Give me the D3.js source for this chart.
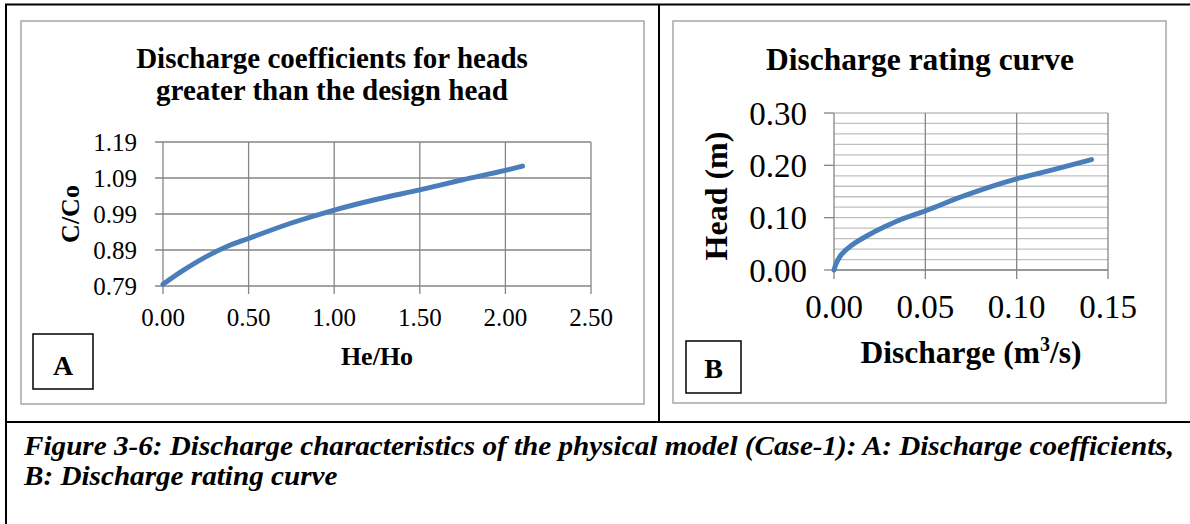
<!DOCTYPE html>
<html><head><meta charset="utf-8">
<script src="https://cdn.jsdelivr.net/npm/d3@7"></script>
<style>
html,body{margin:0;padding:0;background:#fff;}
svg{display:block;font-family:"Liberation Serif","Times New Roman",serif;}
</style></head>
<body>
<svg id="c" width="1190" height="524"></svg>
<script>
// ---- Data ----
const heRatio = [0.00, 0.12, 0.25, 0.37, 0.50, 0.75, 1.00, 1.25, 1.50, 1.75, 2.00, 2.10];
const cRatio  = [0.795, 0.834, 0.871, 0.899, 0.922, 0.965, 1.001, 1.031, 1.057, 1.085, 1.111, 1.123];
const aXTicks = [0.00, 0.50, 1.00, 1.50, 2.00, 2.50];
const aYTicks = [0.79, 0.89, 0.99, 1.09, 1.19];

const discharge = [0.000, 0.0014, 0.0041, 0.0095, 0.0184, 0.0274, 0.0363, 0.050, 0.0722, 0.100, 0.117, 0.141];
const head      = [0.000, 0.014, 0.030, 0.047, 0.066, 0.082, 0.096, 0.113, 0.143, 0.174, 0.189, 0.211];
const bXTicks = [0.00, 0.05, 0.10, 0.15];
const bYTicks = [0.00, 0.10, 0.20, 0.30];
const bYMinor = d3.range(0, 0.3001, 0.02);

const titleA = ["Discharge coefficients for heads", "greater than the design head"];
const titleB = "Discharge rating curve";
const caption = ["Figure 3-6: Discharge characteristics of the physical model (Case-1): A: Discharge coefficients,",
                 "B: Discharge rating curve"];

const svg = d3.select("#c");
const lineColor = "#4a7ebb";
const gridDark = "#868686";
const gridLight = "#bfbfbf";

// ---- outer table borders ----
svg.append("line").attr("x1",5).attr("x2",1190).attr("y1",4.5).attr("y2",4.5).attr("stroke","#000").attr("stroke-width",2);
svg.append("line").attr("x1",6).attr("x2",6).attr("y1",4).attr("y2",524).attr("stroke","#000").attr("stroke-width",2);
svg.append("line").attr("x1",659).attr("x2",659).attr("y1",4).attr("y2",422).attr("stroke","#000").attr("stroke-width",2);
svg.append("line").attr("x1",5).attr("x2",1190).attr("y1",422).attr("y2",422).attr("stroke","#000").attr("stroke-width",2);

// ---- Chart frames ----
svg.append("rect").attr("x",21).attr("y",21).attr("width",623).attr("height",383).attr("fill","#fff").attr("stroke","#a6a6a6").attr("stroke-width",1.5);
svg.append("rect").attr("x",673).attr("y",21).attr("width",493).attr("height",382).attr("fill","#fff").attr("stroke","#a6a6a6").attr("stroke-width",1.5);

// ================= Chart A =================
const ax = d3.scaleLinear().domain([0, 2.5]).range([163, 591]);
const ay = d3.scaleLinear().domain([0.79, 1.19]).range([286, 142]);
const gA = svg.append("g");

gA.selectAll(".hg").data(aYTicks).join("line")
  .attr("x1", ax(0)-8).attr("x2", ax(2.5)).attr("y1", d=>ay(d)).attr("y2", d=>ay(d))
  .attr("stroke", gridDark).attr("stroke-width",1.3);
gA.selectAll(".vg").data(aXTicks).join("line")
  .attr("y1", ay(1.19)).attr("y2", ay(0.79)+8).attr("x1", d=>ax(d)).attr("x2", d=>ax(d))
  .attr("stroke", gridDark).attr("stroke-width",1.3);

gA.selectAll(".yl").data(aYTicks).join("text")
  .attr("x", 137).attr("y", d=>ay(d)).attr("dy","0.35em").attr("text-anchor","end")
  .attr("font-size",25).text(d=>d3.format(".2f")(d));
gA.selectAll(".xl").data(aXTicks).join("text")
  .attr("x", d=>ax(d)).attr("y", 326).attr("text-anchor","middle")
  .attr("font-size",25).text(d=>d3.format(".2f")(d));

gA.append("path").datum(heRatio.map((h,i)=>[h,cRatio[i]]))
  .attr("d", d3.line().x(d=>ax(d[0])).y(d=>ay(d[1])).curve(d3.curveMonotoneX))
  .attr("fill","none").attr("stroke",lineColor).attr("stroke-width",5).attr("stroke-linecap","round");

gA.selectAll(".ta").data(titleA).join("text")
  .attr("x", 332).attr("y",(d,i)=>68+i*32).attr("text-anchor","middle")
  .attr("font-size",29).attr("font-weight","bold").text(d=>d);

gA.append("text").attr("transform",`translate(79,214) rotate(-90)`).attr("text-anchor","middle")
  .attr("font-size",26).attr("font-weight","bold").text("C/Co");
gA.append("text").attr("x",377).attr("y",365).attr("text-anchor","middle")
  .attr("font-size",26).attr("font-weight","bold").text("He/Ho");

gA.append("rect").attr("x",33).attr("y",334).attr("width",60).attr("height",55).attr("fill","#fff").attr("stroke","#000").attr("stroke-width",1.5);
gA.append("text").attr("x",63).attr("y",375).attr("text-anchor","middle").attr("font-size",28).attr("font-weight","bold").text("A");

// ================= Chart B =================
const bx = d3.scaleLinear().domain([0, 0.15]).range([834, 1108]);
const by = d3.scaleLinear().domain([0, 0.30]).range([270, 113]);
const gB = svg.append("g");

gB.selectAll(".mg").data(bYMinor).join("line")
  .attr("x1", bx(0)).attr("x2", bx(0.15)).attr("y1", d=>by(d)).attr("y2", d=>by(d))
  .attr("stroke", gridLight).attr("stroke-width",1.3);
gB.selectAll(".vg").data(bXTicks).join("line")
  .attr("y1", by(0.30)).attr("y2", by(0)+9).attr("x1", d=>bx(d)).attr("x2", d=>bx(d))
  .attr("stroke", gridDark).attr("stroke-width",1.3);
gB.selectAll(".yt").data(bYTicks).join("line")
  .attr("x1", bx(0)-10).attr("x2", bx(0)).attr("y1", d=>by(d)).attr("y2", d=>by(d))
  .attr("stroke", gridDark).attr("stroke-width",1.3);
gB.append("line").attr("x1", bx(0)).attr("x2", bx(0.15)).attr("y1", by(0)).attr("y2", by(0))
  .attr("stroke", gridDark).attr("stroke-width",1.3);

gB.selectAll(".yl").data(bYTicks).join("text")
  .attr("x", 807).attr("y", d=>by(d)).attr("dy","0.35em").attr("text-anchor","end")
  .attr("font-size",33).text(d=>d3.format(".2f")(d));
gB.selectAll(".xl").data(bXTicks).join("text")
  .attr("x", d=>bx(d)).attr("y", 318).attr("text-anchor","middle")
  .attr("font-size",33).text(d=>d3.format(".2f")(d));

gB.append("path").datum(discharge.map((q,i)=>[q,head[i]]))
  .attr("d", d3.line().x(d=>bx(d[0])).y(d=>by(d[1])).curve(d3.curveMonotoneY))
  .attr("fill","none").attr("stroke",lineColor).attr("stroke-width",5).attr("stroke-linecap","round");

gB.append("text").attr("x",920).attr("y",70).attr("text-anchor","middle")
  .attr("font-size",31.5).attr("font-weight","bold").text(titleB);

gB.append("text").attr("transform",`translate(727,196) rotate(-90)`).attr("text-anchor","middle")
  .attr("font-size",32).attr("font-weight","bold").text("Head (m)");
const xt = gB.append("text").attr("x",971).attr("y",363).attr("text-anchor","middle")
  .attr("font-size",31.5).attr("font-weight","bold");
xt.append("tspan").text("Discharge (m");
xt.append("tspan").attr("font-size",20).attr("dy",-12).text("3");
xt.append("tspan").attr("dy",12).text("/s)");

gB.append("rect").attr("x",686).attr("y",341).attr("width",55).attr("height",52).attr("fill","#fff").attr("stroke","#000").attr("stroke-width",1.5);
gB.append("text").attr("x",713.5).attr("y",378).attr("text-anchor","middle").attr("font-size",28).attr("font-weight","bold").text("B");

// ================= Caption =================
const capSel = svg.selectAll(".cap").data(caption).join("text")
  .attr("x",24).attr("y",(d,i)=>455+i*30)
  .attr("font-size",26.5).attr("font-weight","bold").attr("font-style","italic").text(d=>d);
// stretch horizontally like the reference (line 1 spans to ~x=1174)
const natural = capSel.nodes().map(n=>n.getComputedTextLength());
const stretch = 1150 / natural[0];
capSel.each(function(d,i){
  d3.select(this).attr("textLength", natural[i]*stretch).attr("lengthAdjust","spacingAndGlyphs");
});
</script>
</body></html>
